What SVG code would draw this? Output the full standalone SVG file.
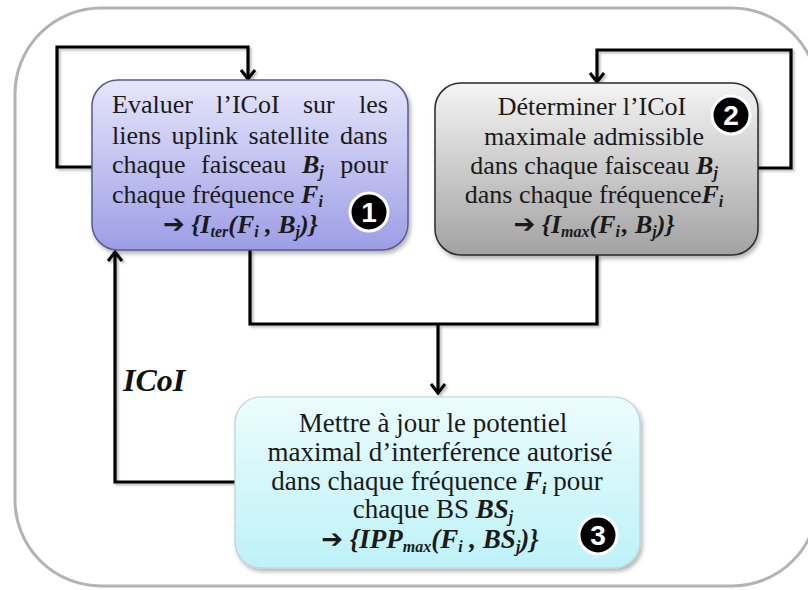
<svg xmlns="http://www.w3.org/2000/svg" width="808" height="590" viewBox="0 0 808 590">
<style>
.t{font-family:"Liberation Serif","Times New Roman",serif;font-size:27px;fill:#1a1a1a}
.s{font-size:26px}
.bi{font-weight:bold;font-style:italic}
.sub{font-size:16px}
.arr{font-family:"DejaVu Sans",sans-serif;font-size:26px;font-weight:bold}
.conn{fill:none;stroke:#000;stroke-width:3.2;stroke-linejoin:miter}
.badge circle{fill:#000;stroke:#fff;stroke-width:3}
.badge text{font-family:"Liberation Sans",Arial,sans-serif;font-weight:bold;font-size:28px;fill:#fff;text-anchor:middle}
.lbl{font-family:"Liberation Serif","Times New Roman",serif;font-size:32px;font-weight:bold;font-style:italic;fill:#111}
</style>
<defs>
<linearGradient id="g1" x1="0" y1="0" x2="0" y2="1">
<stop offset="0" stop-color="#e6e6fb"/><stop offset="1" stop-color="#9d9de6"/>
</linearGradient>
<linearGradient id="g2" x1="0" y1="0" x2="0" y2="1">
<stop offset="0" stop-color="#f4f4f4"/><stop offset="1" stop-color="#a2a2a2"/>
</linearGradient>
<linearGradient id="g3" x1="0" y1="0" x2="0" y2="1">
<stop offset="0" stop-color="#ecfcfd"/><stop offset="1" stop-color="#bdf2f7"/>
</linearGradient>
<filter id="sh" x="-10%" y="-10%" width="130%" height="130%">
<feDropShadow dx="2" dy="3" stdDeviation="2" flood-color="#000" flood-opacity="0.3"/>
</filter>
<filter id="shl" x="-10%" y="-10%" width="130%" height="130%">
<feDropShadow dx="2" dy="2" stdDeviation="1.2" flood-color="#000" flood-opacity="0.25"/>
</filter>
<marker id="ah" viewBox="-12 -10 14 20" refX="0" refY="0" markerWidth="14" markerHeight="20" markerUnits="userSpaceOnUse" orient="auto">
<path d="M-9,-7 L0,0 L-9,7" fill="none" stroke="#000" stroke-width="3"/>
</marker>
</defs>
<rect id="frame" x="15" y="8" width="803" height="578" rx="86" ry="86" fill="#fff" stroke="#b3b3b3" stroke-width="3"/>
<g id="connectors" filter="url(#shl)">
<path class="conn" d="M92,167 H57 V47 H248 V79" marker-end="url(#ah)"/>
<path class="conn" d="M758,168 H791 V50 H597 V82" marker-end="url(#ah)"/>
<path class="conn" d="M250,250 V324 H597 V255"/>
<path class="conn" d="M438,324 V393" marker-end="url(#ah)"/>
<path class="conn" d="M236,482 H115 V252" marker-end="url(#ah)"/>
</g>
<text class="lbl" x="123" y="391">ICoI</text>
<g id="node1">
<rect x="92" y="80" width="316" height="170" rx="26" fill="url(#g1)" stroke="#5a5a8c" stroke-width="1.5" filter="url(#sh)"/>
<text class="t s" x="112" y="113">Evaluer</text>
<text class="t s" x="216" y="113">l’ICoI</text>
<text class="t s" x="303" y="113">sur</text>
<text class="t s" x="388" y="113" text-anchor="end">les</text>
<text class="t s" x="112" y="144" word-spacing="4">liens uplink satellite dans</text>
<text class="t s" x="112" y="173">chaque</text>
<text class="t s" x="201" y="173">faisceau</text>
<text class="t s" x="302" y="173"><tspan class="bi">B</tspan><tspan class="bi sub" dy="4">j</tspan></text>
<text class="t s" x="388" y="173" text-anchor="end">pour</text>
<text class="t s" x="112" y="203">chaque fréquence <tspan class="bi">F</tspan><tspan class="bi sub" dy="4">i</tspan></text>
<text class="t s" x="163" y="233"><tspan class="arr">➔</tspan> <tspan class="bi">{I</tspan><tspan class="bi sub" dy="4">ter</tspan><tspan class="bi" dy="-4">(F</tspan><tspan class="bi sub" dy="4">i</tspan><tspan class="bi" dy="-4"> , B</tspan><tspan class="bi sub" dy="4">j</tspan><tspan class="bi" dy="-4">)}</tspan></text>
<g class="badge"><circle cx="369" cy="212" r="19"/><text x="369" y="222">1</text></g>
</g>
<g id="node2">
<rect x="435" y="83" width="323" height="172" rx="26" fill="url(#g2)" stroke="#2a2a2a" stroke-width="1.5" filter="url(#sh)"/>
<text class="t s" x="592" y="115" text-anchor="middle">Déterminer l’ICoI</text>
<text class="t s" x="594" y="145" text-anchor="middle">maximale admissible</text>
<text class="t s" x="594" y="174" text-anchor="middle">dans chaque faisceau <tspan class="bi">B</tspan><tspan class="bi sub" dy="4">j</tspan></text>
<text class="t s" x="594" y="203" text-anchor="middle">dans chaque fréquence<tspan class="bi">F</tspan><tspan class="bi sub" dy="4">i</tspan></text>
<text class="t s" x="594" y="233" text-anchor="middle"><tspan class="arr">➔</tspan> <tspan class="bi">{I</tspan><tspan class="bi sub" dy="4">max</tspan><tspan class="bi" dy="-4">(F</tspan><tspan class="bi sub" dy="4">i</tspan><tspan class="bi" dy="-4" dx="2">, B</tspan><tspan class="bi sub" dy="4">j</tspan><tspan class="bi" dy="-4">)}</tspan></text>
<g class="badge"><circle cx="731" cy="115" r="19"/><text x="731" y="125">2</text></g>
</g>
<g id="node3">
<rect x="235" y="397" width="405" height="171" rx="26" fill="url(#g3)" stroke="#b8d4d8" stroke-width="1.2" filter="url(#sh)"/>
<text class="t" x="433" y="432" text-anchor="middle">Mettre à jour le potentiel</text>
<text class="t" x="440" y="461" text-anchor="middle">maximal d’interférence autorisé</text>
<text class="t" x="437" y="490" text-anchor="middle">dans chaque fréquence <tspan class="bi">F</tspan><tspan class="bi sub" dy="4">i</tspan><tspan dy="-4"> pour</tspan></text>
<text class="t" x="433" y="518" text-anchor="middle">chaque BS <tspan class="bi">BS</tspan><tspan class="bi sub" dy="4">j</tspan></text>
<text class="t" x="430" y="548" text-anchor="middle"><tspan class="arr">➔</tspan> <tspan class="bi">{IPP</tspan><tspan class="bi sub" dy="4">max</tspan><tspan class="bi" dy="-4">(F</tspan><tspan class="bi sub" dy="4">i</tspan><tspan class="bi" dy="-4"> , BS</tspan><tspan class="bi sub" dy="4">j</tspan><tspan class="bi" dy="-4">)}</tspan></text>
<g class="badge"><circle cx="598" cy="535" r="19"/><text x="598" y="545">3</text></g>
</g>
</svg>
